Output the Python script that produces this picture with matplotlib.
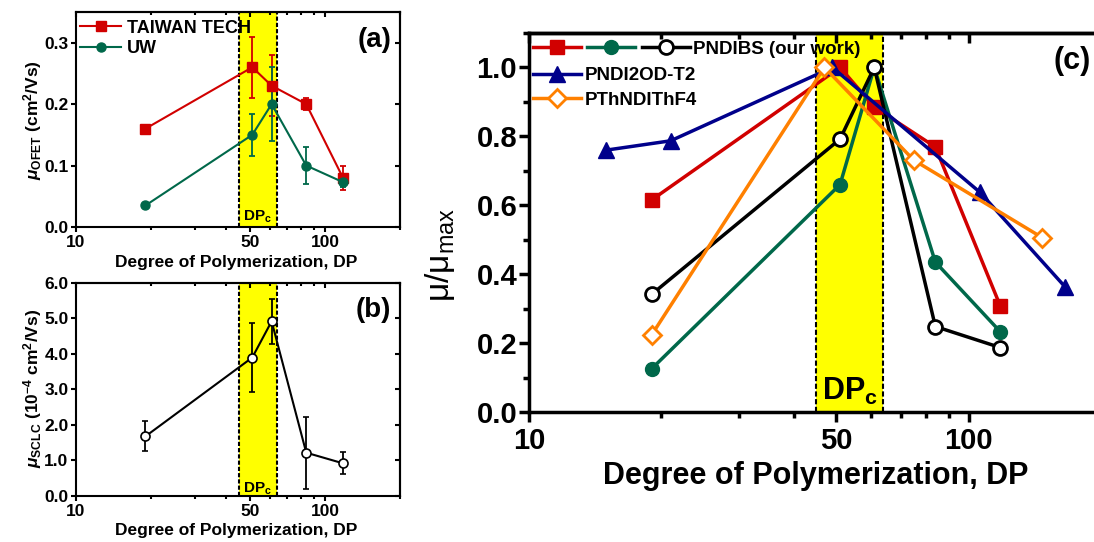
import numpy as np
import matplotlib
matplotlib.use('Agg')
import matplotlib.pyplot as plt
from matplotlib.ticker import (FixedLocator, FixedFormatter, NullFormatter,
                               MultipleLocator, FormatStrFormatter)

plt.rcParams['font.family'] = ['Liberation Sans', 'DejaVu Sans']
plt.rcParams['font.weight'] = 'bold'
plt.rcParams['axes.labelweight'] = 'bold'
plt.rcParams['mathtext.fontset'] = 'custom'
plt.rcParams['mathtext.rm'] = 'Liberation Sans:bold'
plt.rcParams['mathtext.it'] = 'Liberation Sans:italic:bold'
plt.rcParams['mathtext.bf'] = 'Liberation Sans:bold'
plt.rcParams['mathtext.sf'] = 'Liberation Sans:weight=normal'

# degree of polymerization of the PNDIBS batches
dp = [19, 51, 61, 84, 118]

# (a) OFET mobility (cm2/Vs)
taiwan_mu = [0.16, 0.26, 0.23, 0.20, 0.08]
taiwan_err = [0.0, 0.05, 0.05, 0.01, 0.02]
uw_mu = [0.035, 0.15, 0.20, 0.10, 0.073]
uw_err = [0.0, 0.034, 0.06, 0.03, 0.008]

# (b) SCLC mobility (1e-4 cm2/Vs)
sclc_mu = [1.68, 3.9, 4.92, 1.22, 0.92]
sclc_err = [0.42, 0.97, 0.63, 1.01, 0.31]

# (c) mobility normalised to the max
taiwan_norm = [0.615, 1.0, 0.885, 0.769, 0.308]
uw_norm = [0.125, 0.66, 1.0, 0.435, 0.233]
sclc_norm = [0.341, 0.792, 1.0, 0.248, 0.187]
t2_dp = [15, 21, 49, 106, 166]
t2_norm = [0.76, 0.787, 1.0, 0.638, 0.362]
f4_dp = [19, 47, 75, 147]
f4_norm = [0.223, 1.0, 0.731, 0.506]

# critical DP window
dpc_lo, dpc_hi = 45, 64

x_major = [10, 50, 100]
x_minor = [20, 30, 40, 60, 70, 80, 90, 200]

RED = '#D10000'
GREEN = '#00684A'
BLUE = '#00008B'
ORANGE = '#FF8000'


def dress(ax, ymax, ystep, yminor, fs, lw, tl, xpad, ypad, right_ticks=True):
    ax.set_xscale('log')
    ax.set_xlim(10, 200)
    ax.set_ylim(0, ymax)
    ax.xaxis.set_major_locator(FixedLocator(x_major))
    ax.xaxis.set_major_formatter(FixedFormatter([str(v) for v in x_major]))
    ax.xaxis.set_minor_locator(FixedLocator(x_minor))
    ax.xaxis.set_minor_formatter(NullFormatter())
    ax.yaxis.set_major_locator(MultipleLocator(ystep))
    ax.yaxis.set_major_formatter(FormatStrFormatter('%.1f'))
    if yminor:
        ax.yaxis.set_minor_locator(MultipleLocator(yminor))
    for s in ax.spines.values():
        s.set_linewidth(lw)
    ax.tick_params(which='both', direction='out', width=lw, labelsize=fs)
    ax.tick_params(which='major', length=tl)
    ax.tick_params(which='minor', length=tl * 0.6)
    ax.tick_params(axis='x', pad=xpad)
    ax.tick_params(axis='y', pad=ypad)
    # inward ticks on top and right
    top = ax.secondary_xaxis('top')
    top.xaxis.set_major_locator(FixedLocator(x_major))
    top.xaxis.set_minor_locator(FixedLocator(x_minor))
    top.xaxis.set_major_formatter(NullFormatter())
    top.xaxis.set_minor_formatter(NullFormatter())
    top.tick_params(which='both', direction='in', width=lw)
    top.tick_params(which='major', length=tl)
    top.tick_params(which='minor', length=tl * 0.6)
    top.spines['top'].set_linewidth(lw)
    if right_ticks:
        right = ax.secondary_yaxis('right')
        right.yaxis.set_major_locator(MultipleLocator(ystep))
        right.yaxis.set_major_formatter(NullFormatter())
        right.tick_params(direction='in', width=lw, length=tl)
        right.spines['right'].set_linewidth(lw)


def band(ax, lw, dash, fs, ytext):
    ax.axvspan(dpc_lo, dpc_hi, color='#FFFF00', lw=0, zorder=0)
    for v in (dpc_lo, dpc_hi):
        ax.axvline(v, color='k', lw=lw, ls=(0, dash), zorder=1)
    ax.text(np.sqrt(dpc_lo * dpc_hi), ytext, r'DP$_{\mathrm{c}}$',
            transform=ax.get_xaxis_transform(), ha='center', va='baseline',
            fontsize=fs)


fig = plt.figure(figsize=(10.94, 5.42), dpi=100)
ax_a = fig.add_axes([0.0695, 0.5812, 0.2962, 0.3967])
ax_b = fig.add_axes([0.0695, 0.0849, 0.2962, 0.3930])
ax_c = fig.add_axes([0.4835, 0.2399, 0.5229, 0.6993])

# ---- (a)
dress(ax_a, 0.35, 0.1, None, 12.5, 1.5, 3.5, 2, 2)
band(ax_a, 1.5, (2, 1), 11, 0.028)
eb_tt = ax_a.errorbar(dp, taiwan_mu, yerr=taiwan_err, color=RED, marker='s',
                      ms=6.5, lw=1.5, capsize=2.5, elinewidth=1.3,
                      capthick=1.3, zorder=3)
eb_uw = ax_a.errorbar(dp, uw_mu, yerr=uw_err, color=GREEN, marker='o', ms=6.5,
                      lw=1.5, capsize=2.5, elinewidth=1.3, capthick=1.3,
                      zorder=3)
ax_a.legend([eb_tt[0], eb_uw[0]], ['TAIWAN TECH', 'UW'],
            loc='upper left', bbox_to_anchor=(0.012, 0.965),
            frameon=False, fontsize=13, handlelength=2.3,
            handletextpad=0.3, labelspacing=0.2, borderpad=0,
            borderaxespad=0)
ax_a.set_xlabel('Degree of Polymerization, DP', fontsize=12.5)
ax_a.xaxis.label.set_va('center')
ax_a.xaxis.set_label_coords(0.495, -0.167)
ax_a.set_ylabel(r'$\mu_{\mathrm{OFET}}$ (cm$^{\mathrm{2}}$/Vs)', fontsize=12.5)
ax_a.yaxis.label.set_va('center')
ax_a.yaxis.set_label_coords(-0.133, 0.498)
ax_a.text(0.92, 0.87, '(a)', transform=ax_a.transAxes, ha='center',
          va='center', fontsize=20)

# ---- (b)
dress(ax_b, 6.0, 1.0, None, 12.5, 1.5, 3.5, 2, 2)
band(ax_b, 1.5, (2, 1), 11, 0.014)
ax_b.errorbar(dp, sclc_mu, yerr=sclc_err, color='k', marker='o', ms=6.5,
              mfc='white', mec='k', mew=1.2, lw=1.5, capsize=2.5,
              elinewidth=1.3, capthick=1.3, zorder=3)
ax_b.set_xlabel('Degree of Polymerization, DP', fontsize=12.5)
ax_b.xaxis.label.set_va('center')
ax_b.xaxis.set_label_coords(0.495, -0.16)
ax_b.set_ylabel(r'$\mu_{\mathrm{SCLC}}$ (10$^{\mathrm{-4}}$ cm$^{\mathrm{2}}$/Vs)',
                fontsize=12.5)
ax_b.yaxis.label.set_va('center')
ax_b.yaxis.set_label_coords(-0.133, 0.507)
ax_b.text(0.917, 0.873, '(b)', transform=ax_b.transAxes, ha='center',
          va='center', fontsize=20)

# ---- (c)
dress(ax_c, 1.1, 0.2, 0.1, 21, 2.5, 7, 3.5, 1.5, right_ticks=False)
band(ax_c, 1.5, (2.5, 1.2), 22, 0.032)
l_red, = ax_c.plot(dp, taiwan_norm, color=RED, marker='s', ms=9.5, lw=2.5,
                   zorder=3)
l_green, = ax_c.plot(dp, uw_norm, color=GREEN, marker='o', ms=10, lw=2.5,
                     zorder=3)
l_black, = ax_c.plot(dp, sclc_norm, color='k', marker='o', ms=10, lw=2.5,
                     mfc='white', mew=2, zorder=3)
l_blue, = ax_c.plot(t2_dp, t2_norm, color=BLUE, marker='^', ms=11, lw=2.5,
                    zorder=3)
l_orange, = ax_c.plot(f4_dp, f4_norm, color=ORANGE, marker='D', ms=9, lw=2.5,
                      mfc='white', mew=2, zorder=3)

leg1 = ax_c.legend([l_red, l_green, l_black], ['', '', 'PNDIBS (our work)'],
                   ncol=3, loc='upper left', bbox_to_anchor=(0.007, 0.98),
                   frameon=False, fontsize=13.5, handlelength=2.55,
                   handletextpad=0.2, columnspacing=0.15, borderpad=0,
                   borderaxespad=0)
ax_c.add_artist(leg1)
ax_c.legend([l_blue, l_orange], ['PNDI2OD-T2', 'PThNDIThF4'],
            loc='upper left', bbox_to_anchor=(0.007, 0.91),
            frameon=False, fontsize=13.5, handlelength=2.55,
            handletextpad=0.2, labelspacing=0.4, borderpad=0,
            borderaxespad=0)
ax_c.set_xlabel('Degree of Polymerization, DP', fontsize=22)
ax_c.xaxis.label.set_va('center')
ax_c.xaxis.set_label_coords(0.501, -0.169)
ax_c.set_ylabel(r'$\mathsf{\mu/\mu_{max}}$', fontsize=24)
ax_c.yaxis.label.set_va('center')
ax_c.yaxis.set_label_coords(-0.155, 0.414)
ax_c.text(0.949, 0.926, '(c)', transform=ax_c.transAxes, ha='center',
          va='center', fontsize=22)

fig.savefig('out.png', dpi=100)
